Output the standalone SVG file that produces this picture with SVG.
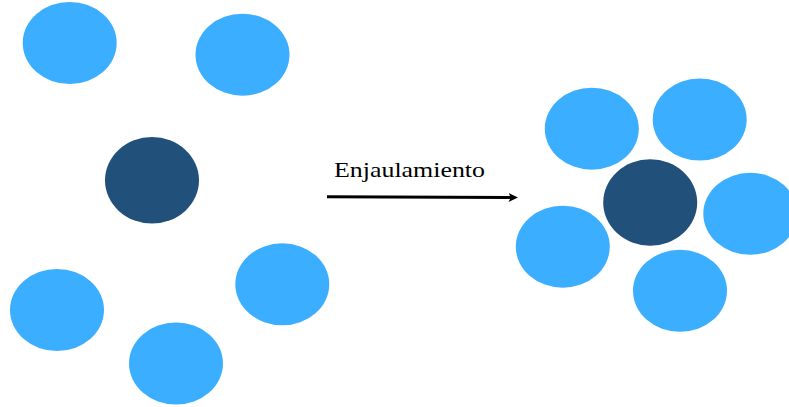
<svg xmlns="http://www.w3.org/2000/svg" width="789" height="407" viewBox="0 0 789 407">
<defs>
<style>
.p{fill:#3CAEFF}
.d{fill:#21507A}
.lbl{font-family:"Liberation Serif","DejaVu Serif",serif;font-size:22px;fill:#000}
.c{stroke:#000;stroke-width:3;fill:none}
</style>
<marker id="ah" markerWidth="11" markerHeight="11" refX="5" refY="5" orient="auto" markerUnits="userSpaceOnUse">
<path d="M0,0.5 L9.5,5 L0,9.5 L2.4,5 Z" fill="#000"/>
</marker>
</defs>
<rect width="789" height="407" fill="#fff"/>
<g id="before">
<g id="n1"><ellipse class="p" cx="69.7" cy="43" rx="47" ry="41"/></g>
<g id="n2"><ellipse class="p" cx="242.5" cy="54.7" rx="47" ry="41"/></g>
<g id="n3"><ellipse class="d" cx="152" cy="180.3" rx="47" ry="43.3"/></g>
<g id="n4"><ellipse class="p" cx="57" cy="310" rx="47" ry="41"/></g>
<g id="n5"><ellipse class="p" cx="176" cy="363.5" rx="47" ry="41"/></g>
<g id="n6"><ellipse class="p" cx="282.3" cy="284.3" rx="47" ry="41"/></g>
</g>
<g id="after">
<g id="m1"><ellipse class="p" cx="591.8" cy="128.7" rx="47" ry="41"/></g>
<g id="m2"><ellipse class="p" cx="699.7" cy="119.5" rx="47" ry="41"/></g>
<g id="m3"><ellipse class="d" cx="650.2" cy="202.5" rx="47" ry="43.2"/></g>
<g id="m4"><ellipse class="p" cx="750.3" cy="213.8" rx="47" ry="41"/></g>
<g id="m5"><ellipse class="p" cx="562.8" cy="246.7" rx="47" ry="41"/></g>
<g id="m6"><ellipse class="p" cx="680" cy="290.8" rx="47" ry="41"/></g>
</g>
<g id="connectors">
<line class="c" x1="327" y1="196.7" x2="513.5" y2="197.6" marker-end="url(#ah)"/>
<text class="lbl" x="334" y="177.3" textLength="151" lengthAdjust="spacingAndGlyphs">Enjaulamiento</text>
</g>
</svg>
